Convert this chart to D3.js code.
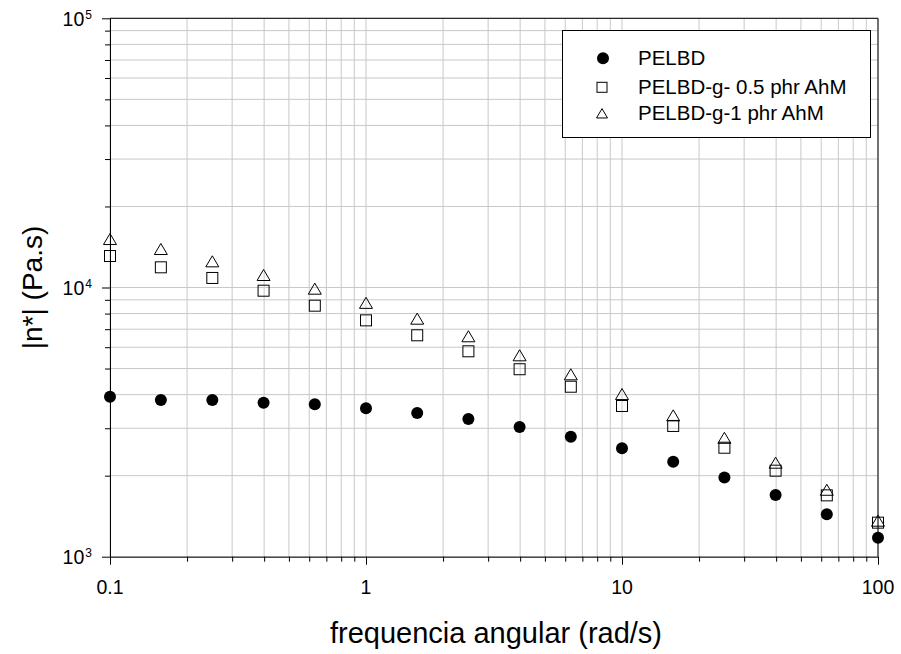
<!DOCTYPE html>
<html>
<head>
<meta charset="utf-8">
<script src="https://cdn.jsdelivr.net/npm/d3@7"></script>
<style>
  html, body { margin: 0; padding: 0; background: #fff; }
  svg { display: block; font-family: "Liberation Sans", Arial, sans-serif; }
</style>
</head>
<body>
<svg id="chart" width="901" height="654"></svg>
<script>
// Angular frequency (rad/s)
const freq = [0.1, 0.158, 0.251, 0.398, 0.631, 1, 1.585, 2.512, 3.981, 6.31, 10, 15.85, 25.12, 39.81, 63.1, 100];
// Complex viscosity |n*| (Pa.s)
const pelbd = [3930, 3820, 3820, 3735, 3685, 3560, 3420, 3250, 3030, 2790, 2530, 2255, 1970, 1695, 1437, 1176];
const pelbd05 = [13090, 11885, 10850, 9730, 8560, 7550, 6645, 5795, 4970, 4280, 3630, 3060, 2540, 2087, 1690, 1338];
const pelbd1 = [15140, 13900, 12510, 11130, 9900, 8770, 7660, 6590, 5600, 4760, 4020, 3350, 2765, 2235, 1773, 1361];
const seriesNames = ["PELBD", "PELBD-g- 0.5 phr AhM", "PELBD-g-1 phr AhM"];
const xTickLabels = ["0.1", "1", "10", "100"];
const yTickExponents = ["3", "4", "5"];

const svg = d3.select("#chart");
const pL = 110, pR = 878, pT = 18.3, pB = 556.7;

const x = d3.scaleLog().domain([0.1, 100]).range([pL, pR]);
const y = d3.scaleLog().domain([1000, 100000]).range([pB, pT]);

// Grid: every decade and every intermediate multiple
const xGrid = [], yGrid = [];
for (let e = -1; e < 2; e++) for (let m = 1; m < 10; m++) xGrid.push(m * Math.pow(10, e));
xGrid.push(100);
for (let e = 3; e < 5; e++) for (let m = 1; m < 10; m++) yGrid.push(m * Math.pow(10, e));
yGrid.push(100000);

const grid = svg.append("g").attr("stroke", "#c8c8c8").attr("stroke-width", 1);
grid.selectAll("line.gx").data(xGrid).join("line")
  .attr("x1", d => x(d)).attr("x2", d => x(d)).attr("y1", pT).attr("y2", pB);
grid.selectAll("line.gy").data(yGrid).join("line")
  .attr("y1", d => y(d)).attr("y2", d => y(d)).attr("x1", pL).attr("x2", pR);

// Axes with outward ticks
const isMajor = v => Math.abs(Math.log10(v) - Math.round(Math.log10(v))) < 1e-9;
const xAxis = svg.append("g").attr("transform", `translate(0,${pB})`)
  .call(d3.axisBottom(x).tickValues(xGrid).tickSizeInner(0).tickSizeOuter(0).tickFormat(""));
xAxis.selectAll(".tick line").attr("y2", d => isMajor(d) ? 8 : 5).attr("stroke", "#000");
xAxis.select(".domain").attr("stroke", "#000");

const yAxis = svg.append("g").attr("transform", `translate(${pL},0)`)
  .call(d3.axisLeft(y).tickValues(yGrid).tickSizeInner(0).tickSizeOuter(0).tickFormat(""));
yAxis.selectAll(".tick line").attr("x2", d => isMajor(d) ? -8 : -5).attr("stroke", "#000");
yAxis.select(".domain").attr("stroke", "#000");

// Frame top and right
svg.append("line").attr("x1", pL).attr("x2", pR).attr("y1", pT).attr("y2", pT).attr("stroke", "#000");
svg.append("line").attr("x1", pR).attr("x2", pR).attr("y1", pT).attr("y2", pB).attr("stroke", "#000");

// X tick labels
const xMajor = [0.1, 1, 10, 100];
svg.selectAll("text.xl").data(xMajor).join("text")
  .attr("x", d => x(d)).attr("y", 594).attr("text-anchor", "middle")
  .attr("font-size", 19.5).attr("fill", "#000")
  .text((d, i) => xTickLabels[i]);

// Y tick labels: 10 with superscript exponent
const yMajor = [1000, 10000, 100000];
yMajor.forEach((v, i) => {
  const t = svg.append("text").attr("x", 92).attr("y", y(v) + 7.5)
    .attr("text-anchor", "end").attr("font-size", 19.5).attr("fill", "#000");
  t.append("tspan").text("10");
  t.append("tspan").attr("dx", 1).attr("dy", -7).attr("font-size", 12).text(yTickExponents[i]);
});

// Axis titles
svg.append("text").attr("x", (pL + pR) / 2 + 2).attr("y", 643).attr("text-anchor", "middle")
  .attr("font-size", 29).attr("fill", "#000").text("frequencia angular (rad/s)");
svg.append("text").attr("transform", `translate(42,287.5) rotate(-90)`)
  .attr("text-anchor", "middle").attr("font-size", 28).attr("fill", "#000").text("|n*| (Pa.s)");

// Symbols
const triPath = (s) => {
  const h = s * 0.85;
  return `M0,${-h / 2}L${s / 2},${h / 2}L${-s / 2},${h / 2}Z`;
};
function drawCircle(g, cx, cy, r) {
  g.append("circle").attr("cx", cx).attr("cy", cy).attr("r", r).attr("fill", "#000");
}
function drawSquare(g, cx, cy, s) {
  g.append("rect").attr("x", cx - s / 2).attr("y", cy - s / 2).attr("width", s).attr("height", s)
    .attr("fill", "none").attr("stroke", "#000").attr("stroke-width", 1);
}
function drawTriangle(g, cx, cy, s) {
  g.append("path").attr("d", triPath(s)).attr("transform", `translate(${cx},${cy})`)
    .attr("fill", "none").attr("stroke", "#000").attr("stroke-width", 1);
}

const marks = svg.append("g");
freq.forEach((f, i) => drawSquare(marks, x(f), y(pelbd05[i]), 11));
freq.forEach((f, i) => drawTriangle(marks, x(f), y(pelbd1[i]), 13));
freq.forEach((f, i) => drawCircle(marks, x(f), y(pelbd[i]), 6));

// Legend
const lg = svg.append("g");
lg.append("rect").attr("x", 562.5).attr("y", 30.5).attr("width", 308).attr("height", 107)
  .attr("fill", "#fff").attr("stroke", "#000").attr("stroke-width", 1);
const rowsY = [58.3, 87.3, 113.3];
drawCircle(lg, 603, rowsY[0], 6);
drawSquare(lg, 602, rowsY[1], 10);
drawTriangle(lg, 602, rowsY[2], 11);
seriesNames.forEach((n, i) => {
  lg.append("text").attr("x", 638).attr("y", rowsY[i] + 7).attr("font-size", 20.5).attr("fill", "#000").text(n);
});
</script>
</body>
</html>
